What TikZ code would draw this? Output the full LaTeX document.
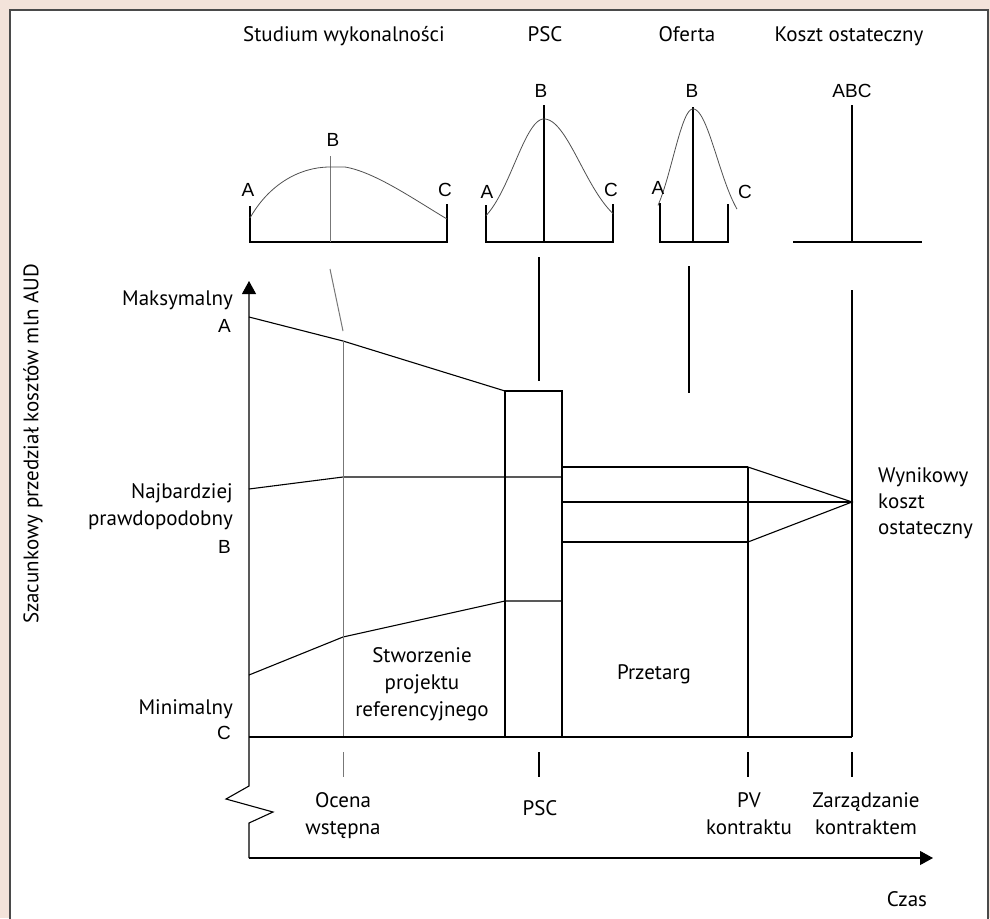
\documentclass[tikz,border=0pt]{standalone}
\usepackage{fontspec}
\setmainfont{PT Sans}
\newfontfamily\letterfont{Liberation Sans}
\usetikzlibrary{arrows.meta}
\definecolor{paper}{HTML}{F3E3DA}
\definecolor{framegray}{HTML}{4A4A4A}
\definecolor{curvegray}{HTML}{505050}
\definecolor{guidegray}{HTML}{777777}

\begin{document}
\begin{tikzpicture}[x=1pt,y=-1pt,
  txt/.style={font=\fontsize{21}{27}\selectfont, inner sep=0pt},
  letter/.style={font=\letterfont\fontsize{19}{22}\selectfont, inner sep=0pt},
  pen/.style={line width=1.1pt, black},
  heavy/.style={line width=1.6pt, black},
  baseln/.style={line width=2.6pt, black},
  curvepen/.style={line width=0.8pt, curvegray},
  guide/.style={line width=1pt, guidegray},
  tip/.style={-{Triangle[length=13pt,width=14pt]}}
]
\useasboundingbox (0,0) rectangle (990,918);
% panel
\fill[paper] (0,0) rectangle (990,918);
\fill[white] (10,10) rectangle (988,918);
\draw[framegray, line width=1.8pt] (10,919) -- (10,10) -- (988,10) -- (988,919);

% column headings
\node[txt, anchor=base] (h1) at (344,41) {Studium wykonalności};
\node[txt, anchor=base] (h2) at (545,41) {PSC};
\node[txt, anchor=base] (h3) at (687,41) {Oferta};
\node[txt, anchor=base] (h4) at (849,41) {Koszt ostateczny};

% --- distribution 1 (feasibility study)
\coordinate (d1L) at (250,242); \coordinate (d1R) at (447,242);
\coordinate (d1C) at (330,242); \coordinate (d1Ct) at (330,156);
\draw[baseln] (250,206) -- (d1L) -- (d1R) -- (447,204);
\draw[guide] (d1Ct) -- (d1C);
\draw[curvepen] (250,218) .. controls (268,186) and (298,167) .. (330,167)
  -- (345,167) .. controls (375,172) and (415,200) .. (447,219);
\node[letter] (a1) at (248,190) {A};
\node[letter] (b1) at (333,140) {B};
\node[letter] (c1) at (445,190) {C};

% --- distribution 2 (PSC)
\coordinate (d2L) at (486,242); \coordinate (d2R) at (613,242);
\coordinate (d2C) at (544,242); \coordinate (d2Ct) at (544,105);
\draw[baseln] (486,205) -- (d2L) -- (d2R) -- (613,204);
\draw[heavy] (d2Ct) -- (d2C);
\draw[curvepen] plot[domain=486:544, samples=50, smooth] (\x, {232-113*exp(-((\x-544)^2)/1738)});
\draw[curvepen] plot[domain=544:613, samples=50, smooth] (\x, {232-113*exp(-((\x-544)^2)/2624)});
\node[letter] (a2) at (487,192) {A};
\node[letter] (b2) at (541,91) {B};
\node[letter] (c2) at (611,190) {C};

% --- distribution 3 (bid)
\coordinate (d3L) at (660,242); \coordinate (d3R) at (728,242);
\coordinate (d3C) at (693,242); \coordinate (d3Ct) at (693,107);
\draw[baseln] (660,203) -- (d3L) -- (d3R) -- (728,204);
\draw[pen] (d3Ct) -- (d3C);
\draw[curvepen] plot[domain=658:693, samples=50, smooth] (\x, {232-123*exp(-((\x-693)^2)/800)});
\draw[curvepen] plot[domain=693:737, samples=50, smooth] (\x, {232-123*exp(-((\x-693)^2)/1152)});
\node[letter] (a3) at (658,188) {A};
\node[letter] (b3) at (692,91) {B};
\node[letter] (c3) at (745,192) {C};

% --- distribution 4 (final cost)
\coordinate (d4L) at (793,242); \coordinate (d4R) at (922,242);
\coordinate (d4C) at (852,242); \coordinate (d4Ct) at (852,105);
\draw[baseln] (d4L) -- (d4R);
\draw[line width=2pt] (d4Ct) -- (d4C);
\node[letter] (abc) at (852,91) {ABC};

% links from distributions down to the chart
\coordinate (l1a) at (330,269); \coordinate (l1b) at (343,331);
\draw[guide] (l1a) -- (l1b);
\coordinate (l2a) at (539,257); \coordinate (l2b) at (539,381);
\draw[heavy] (l2a) -- (l2b);
\coordinate (l3a) at (689,266); \coordinate (l3b) at (689,393);
\draw[pen] (l3a) -- (l3b);

% axes
\coordinate (origin) at (249,858);
\coordinate (zzBot) at (249,823);
\coordinate (zzR) at (273,812);
\coordinate (zzL) at (226,799);
\coordinate (zzTop) at (249,786);
\coordinate (ytip) at (249,281);
\coordinate (xtip) at (933,858);
\draw[pen, tip] (origin) -- (zzBot) -- (zzR) -- (zzL) -- (zzTop) -- (ytip);
\draw[pen, tip] (origin) -- (xtip);

% chart points
\coordinate (A0) at (249,317); \coordinate (A1) at (343,341); \coordinate (A2) at (505,391);
\coordinate (B0) at (249,489); \coordinate (B1) at (343,477); \coordinate (B2) at (505,477); \coordinate (B3) at (562,477);
\coordinate (C0) at (249,675); \coordinate (C1) at (343,637); \coordinate (C2) at (505,601); \coordinate (C3) at (562,601);
\coordinate (base0) at (249,737); \coordinate (base1) at (343,737);
\coordinate (boxTL) at (505,391); \coordinate (boxBR) at (562,737);
\coordinate (hi0) at (562,467); \coordinate (hi1) at (748,467);
\coordinate (mid0) at (562,502);
\coordinate (lo0) at (562,542); \coordinate (lo1) at (748,542);
\coordinate (pv) at (748,737);
\coordinate (fin) at (852,502);
\coordinate (finTop) at (852,290); \coordinate (finBot) at (852,737);

\draw[pen] (A0) -- (A1) -- (A2);
\draw[pen] (B0) -- (B1) -- (B2) -- (B3);
\draw[pen] (C0) -- (C1) -- (C2) -- (C3);
\draw[guide] (A1) -- (base1);
\draw[heavy] (boxTL) rectangle (boxBR);
\draw[pen] (base0) -- (finBot);
\draw[heavy] (hi0) -- (hi1);
\draw[pen] (mid0) -- (fin);
\draw[heavy] (lo0) -- (lo1);
\draw[pen] (hi1) -- (pv);
\draw[pen] (hi1) -- (fin) -- (lo1);
\draw[heavy] (finTop) -- (finBot);

% milestone ticks
\coordinate (t1a) at (343,752); \coordinate (t1b) at (343,777);
\coordinate (t2a) at (539,752); \coordinate (t2b) at (539,777);
\coordinate (t3a) at (748,752); \coordinate (t3b) at (748,777);
\coordinate (t4a) at (852,752); \coordinate (t4b) at (852,777);
\draw[guide] (t1a) -- (t1b);
\draw[pen] (t2a) -- (t2b);
\draw[pen] (t3a) -- (t3b);
\draw[pen] (t4a) -- (t4b);

% value axis labels
\node[txt, anchor=base east] (maxl) at (233,305) {Maksymalny};
\node[letter, anchor=east] (maxA) at (231,326) {A};
\node[txt, anchor=base east] (likl1) at (233,498) {Najbardziej};
\node[txt, anchor=base east] (likl2) at (233,525) {prawdopodobny};
\node[letter, anchor=east] (likB) at (231,547) {B};
\node[txt, anchor=base east] (minl) at (233,714) {Minimalny};
\node[letter, anchor=east] (minC) at (231,733) {C};
\node[txt, rotate=90] (ylab) at (33,444) {Szacunkowy przedział kosztów mln AUD};

% phase labels
\node[txt, anchor=base] (ph1a) at (422,662) {Stworzenie};
\node[txt, anchor=base] (ph1b) at (422,689) {projektu};
\node[txt, anchor=base] (ph1c) at (422,716) {referencyjnego};
\node[txt, anchor=base] (ph2) at (654,679) {Przetarg};
\node[txt, anchor=base west] (res1) at (878,482) {Wynikowy};
\node[txt, anchor=base west] (res2) at (878,508) {koszt};
\node[txt, anchor=base west] (res3) at (878,534) {ostateczny};

% milestone labels
\node[txt, anchor=base] (m1a) at (343,807) {Ocena};
\node[txt, anchor=base] (m1b) at (343,834) {wstępna};
\node[txt, anchor=base] (m2) at (540,815) {PSC};
\node[txt, anchor=base] (m3a) at (749,807) {PV};
\node[txt, anchor=base] (m3b) at (749,834) {kontraktu};
\node[txt, anchor=base] (m4a) at (866,807) {Zarządzanie};
\node[txt, anchor=base] (m4b) at (866,834) {kontraktem};
\node[txt, anchor=base] (czas) at (907,906) {Czas};
\end{tikzpicture}
\end{document}
